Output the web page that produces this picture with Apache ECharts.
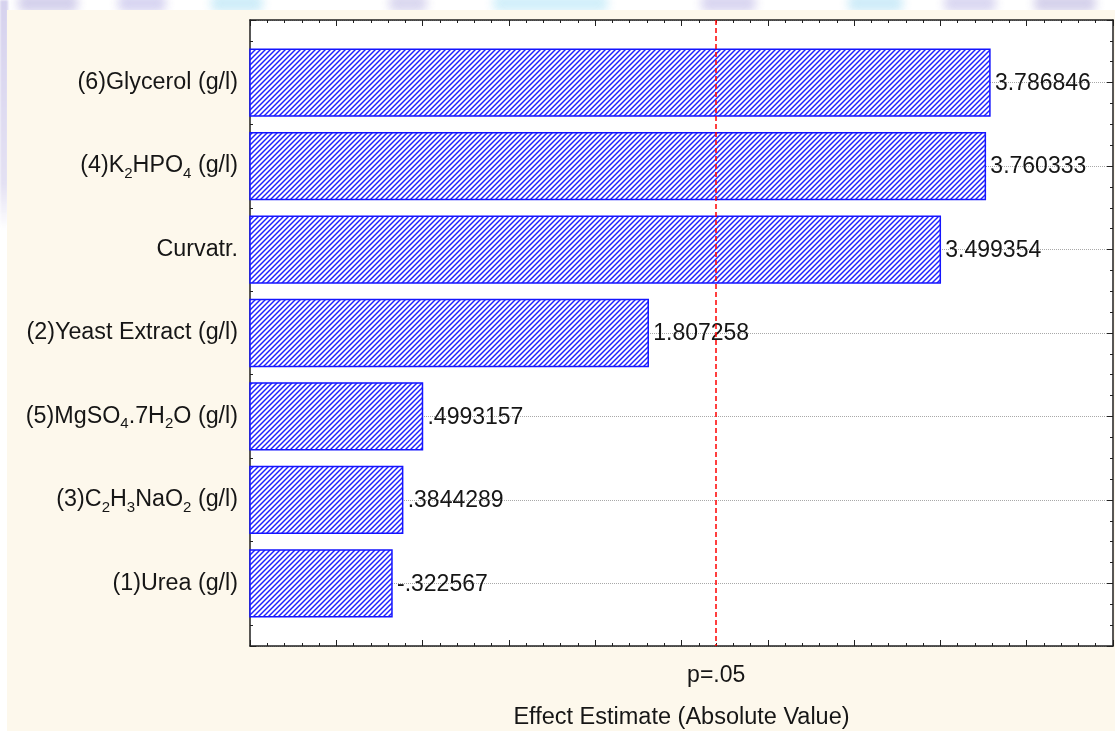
<!DOCTYPE html>
<html>
<head>
<meta charset="utf-8">
<script src="https://cdn.jsdelivr.net/npm/echarts@6/dist/echarts.min.js"></script>
<style>
  html, body { margin: 0; padding: 0; width: 1115px; height: 731px; overflow: hidden; background: #ffffff; }
  #strip { position: absolute; left: 0; top: 0; width: 1115px; height: 12px; overflow: hidden; }
  .blob { position: absolute; top: -6px; height: 18px; filter: blur(5px); border-radius: 6px; opacity: 0.9; }
  #side { position: absolute; left: 0; top: 0; width: 8px; height: 230px;
          background: linear-gradient(#d6d2ee, #e4e1f3 80%, rgba(255,255,255,0)); filter: blur(1px); }
  #panel { position: absolute; left: 7px; top: 10px; right: 0; bottom: 0; background: #fdf8ec; }
  #chart { position: absolute; left: 0; top: 0; width: 1115px; height: 731px; }
</style>
</head>
<body>
<div id="strip"></div>
<div id="side"></div>
<div id="panel"></div>
<div id="chart"></div>
<script>
// Standardized effects of the medium components (Pareto chart)
const categories = [
  '(6)Glycerol (g/l)',
  '(4)K{s|2}HPO{s|4} (g/l)',
  'Curvatr.',
  '(2)Yeast Extract (g/l)',
  '(5)MgSO{s|4}.7H{s|2}O (g/l)',
  '(3)C{s|2}H{s|3}NaO{s|2} (g/l)',
  '(1)Urea (g/l)'
];
const effects = [3.786846, 3.760333, 3.499354, 1.807258, 0.4993157, 0.3844289, -0.322567];
const pCritical = 2.200985;
const pLabel = 'p=.05';
const axisTitle = 'Effect Estimate (Absolute Value)';

const X_MIN = -0.5, X_MAX = 4.5;
const FONT = '"Liberation Sans", Arial, sans-serif';
const TEXT = '#161616';
const FRAME = '#202020';

// soft banner shapes along the top edge
const blobs = [
  [18, 60, '#cfcbea'], [118, 48, '#d3d0f0'], [211, 52, '#c9ebf8'], [389, 38, '#d6d3ee'],
  [493, 115, '#cdeefa'], [701, 55, '#d5d1ef'], [848, 55, '#c9eaf8'], [944, 52, '#d6d3f0'],
  [1034, 62, '#d0cce9']
];
const strip = document.getElementById('strip');
blobs.forEach(([x, w, c]) => {
  const d = document.createElement('div');
  d.className = 'blob';
  d.style.left = x + 'px'; d.style.width = w + 'px'; d.style.background = c;
  strip.appendChild(d);
});

// diagonal hatch fill for the bars
function hatch() {
  const s = 5;
  const c = document.createElement('canvas');
  c.width = s; c.height = s;
  const g = c.getContext('2d');
  g.fillStyle = '#ffffff';
  g.fillRect(0, 0, s, s);
  g.strokeStyle = '#2020ff';
  g.lineWidth = 1.45;
  g.beginPath();
  g.moveTo(-1, s + 1); g.lineTo(s + 1, -1);
  g.moveTo(-1, 1); g.lineTo(1, -1);
  g.moveTo(s - 1, s + 1); g.lineTo(s + 1, s - 1);
  g.stroke();
  return c;
}
const pattern = { image: hatch(), repeat: 'repeat' };

// Statistica-style number text: no leading zero
function fmt(v) {
  return String(v).replace(/^(-?)0\./, '$1.');
}

const tickStyle = { color: FRAME, width: 1 };
function xAxisDef(pos, withLabels) {
  return {
    type: 'value', position: pos, min: X_MIN, max: X_MAX, interval: 0.5,
    axisLine: { show: true, onZero: false, lineStyle: { color: FRAME, width: 1.5 } },
    axisTick: { show: true, inside: true, length: 6, lineStyle: tickStyle },
    minorTick: { show: true, splitNumber: 5, length: 3, lineStyle: tickStyle },
    splitLine: { show: false },
    axisLabel: withLabels ? {
      show: true, customValues: [pCritical], formatter: () => pLabel,
      margin: 18, color: TEXT, fontSize: 23, fontFamily: FONT
    } : { show: false },
    name: withLabels ? axisTitle : '',
    nameLocation: 'middle', nameGap: 60,
    nameTextStyle: { color: TEXT, fontSize: 23.5, fontFamily: FONT }
  };
}
function yAxisDef(pos, withLabels) {
  return {
    type: 'value', position: pos, inverse: true, min: 0.25, max: categories.length + 0.75,
    minInterval: 1, maxInterval: 1,
    axisLine: { show: true, onZero: false, lineStyle: { color: FRAME, width: 1.5 } },
    axisTick: { show: true, inside: true, length: 6, lineStyle: tickStyle },
    minorTick: { show: true, splitNumber: 4, length: 3, lineStyle: tickStyle },
    splitLine: withLabels ? { show: true, lineStyle: { color: '#a8a8a8', type: 'dotted', width: 1 } } : { show: false },
    axisLabel: withLabels ? {
      show: true, margin: 12, color: TEXT, fontSize: 23.3, fontFamily: FONT, lineHeight: 30,
      formatter: v => (Number.isInteger(v) && v >= 1 && v <= categories.length) ? categories[v - 1] : '',
      rich: { s: { fontSize: 15, lineHeight: 14, verticalAlign: 'bottom', color: TEXT, fontFamily: FONT } }
    } : { show: false }
  };
}

const chart = echarts.init(document.getElementById('chart'), null, { renderer: 'canvas' });
chart.setOption({
  backgroundColor: 'transparent',
  animation: false,
  grid: {
    left: 250, top: 20, width: 863, height: 626, outerBoundsMode: 'none', containLabel: false,
    show: true, backgroundColor: '#ffffff', borderWidth: 0
  },
  xAxis: [xAxisDef('bottom', true), xAxisDef('top', false)],
  yAxis: [yAxisDef('left', true), yAxisDef('right', false)],
  series: [
    {
      type: 'custom',
      xAxisIndex: 0, yAxisIndex: 0,
      encode: { x: 0, y: 1 },
      data: effects.map((v, i) => [Math.abs(v), i + 1, v]),
      renderItem(params, api) {
        const p = api.value(1);
        const start = api.coord([X_MIN, p]);
        const end = api.coord([api.value(0), p]);
        const h = api.size([0, 1])[1] * 0.8;
        return {
          type: 'group',
          children: [
            {
              type: 'rect',
              shape: { x: start[0], y: end[1] - h / 2, width: end[0] - start[0], height: h },
              style: { fill: pattern, stroke: '#1515ff', lineWidth: 1.5 }
            },
            {
              type: 'text',
              style: {
                x: end[0] + 5, y: end[1] + 1, text: fmt(api.value(2)),
                fill: TEXT, fontSize: 23, fontFamily: FONT, align: 'left', verticalAlign: 'middle'
              }
            }
          ]
        };
      },
      z: 3
    },
    {
      type: 'line',
      xAxisIndex: 0, yAxisIndex: 0,
      data: [],
      z: 5,
      markLine: {
        silent: true, symbol: ['none', 'none'], label: { show: false },
        lineStyle: { color: '#ff0000', type: [5, 3], width: 1.5 },
        data: [{ xAxis: pCritical }]
      }
    }
  ]
});
</script>
</body>
</html>
